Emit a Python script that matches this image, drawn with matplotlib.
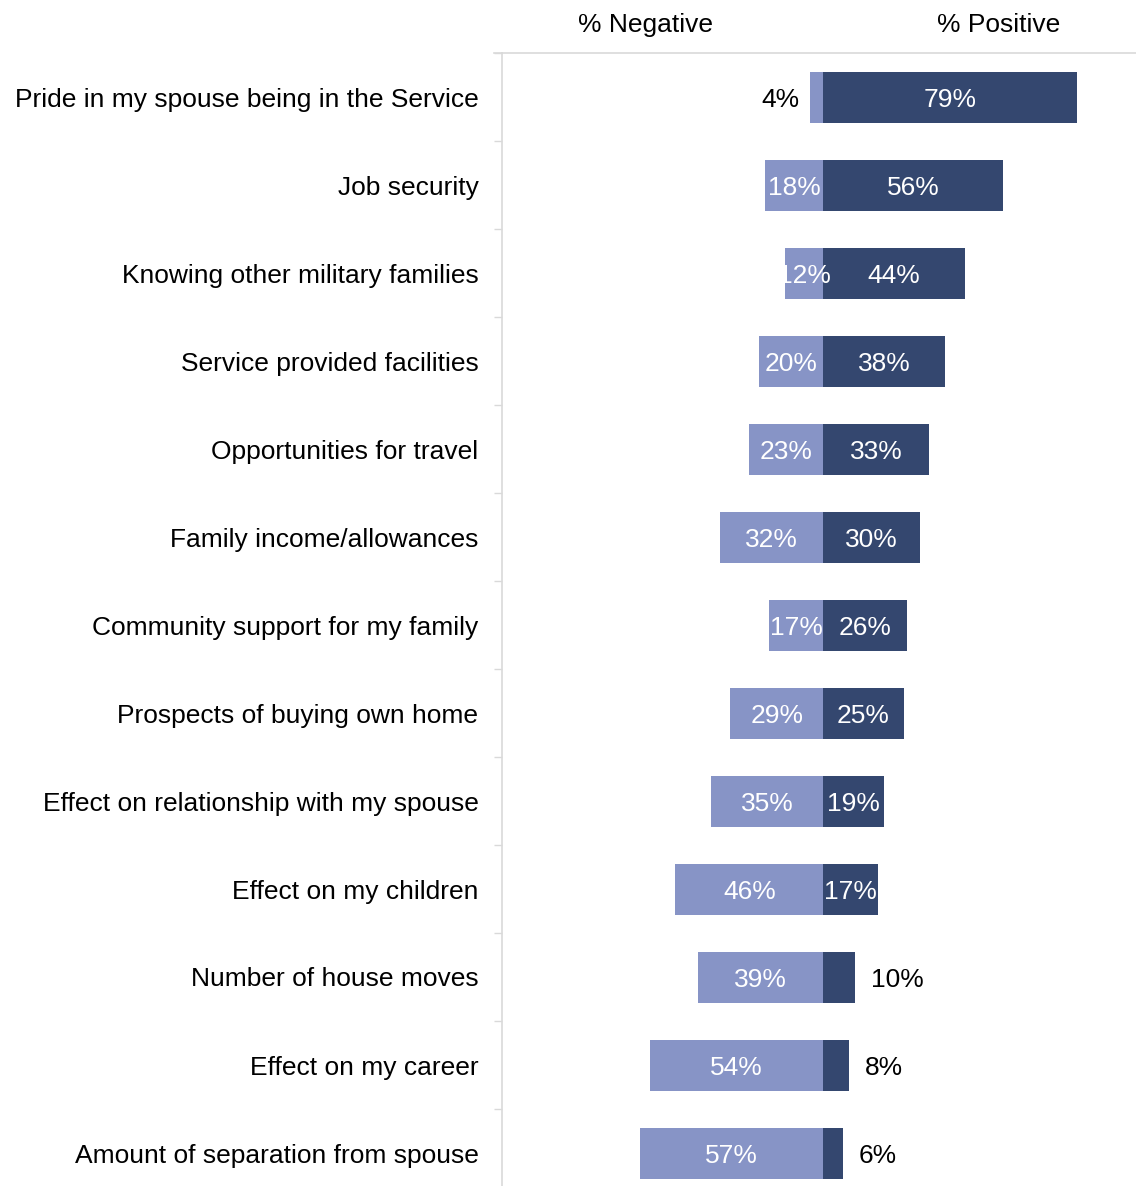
import numpy as np
import matplotlib
matplotlib.use("Agg")
import matplotlib.pyplot as plt

plt.rcParams['font.family'] = ['Liberation Sans', 'DejaVu Sans']

categories = [
    "Pride in my spouse being in the Service",
    "Job security",
    "Knowing other military families",
    "Service provided facilities",
    "Opportunities for travel",
    "Family income/allowances",
    "Community support for my family",
    "Prospects of buying own home",
    "Effect on relationship with my spouse",
    "Effect on my children",
    "Number of house moves",
    "Effect on my career",
    "Amount of separation from spouse",
]
negative = [4, 18, 12, 20, 23, 32, 17, 29, 35, 46, 39, 54, 57]
positive = [79, 56, 44, 38, 33, 30, 26, 25, 19, 17, 10, 8, 6]

neg_color = "#8794C6"
pos_color = "#34476F"
grid_color = "#D9D9D9"
fs = 19
outside_limit = 11  # below this the label goes outside the bar

W, H = 1136, 1186
fig = plt.figure(figsize=(W / 100, H / 100), dpi=100)
# plot area: left spine at x=502px, top at y=53px, bottom cropped below the image
left, right = 502 / W, 1144.5 / W
top, bottom = 1 - 53 / H, 1 - 1197 / H
ax = fig.add_axes([left, bottom, right - left, top - bottom])

y = np.arange(len(categories))
neg = np.array(negative)
pos = np.array(positive)
bar_h = 0.58

ax.barh(y + 0.01, -neg, height=bar_h, color=neg_color)
ax.barh(y + 0.01, pos, height=bar_h, color=pos_color)

for i in range(len(categories)):
    n, p = neg[i], pos[i]
    yi = i + 0.03
    if n < outside_limit:
        ax.text(-n - 3.5, yi, f"{n}%", ha="right", va="center", fontsize=fs, color="black")
    else:
        ax.text(-n / 2, yi, f"{n}%", ha="center", va="center", fontsize=fs, color="white")
    if p < outside_limit:
        ax.text(p + 5, yi, f"{p}%", ha="left", va="center", fontsize=fs, color="black")
    else:
        ax.text(p / 2, yi, f"{p}%", ha="center", va="center", fontsize=fs, color="white")

ax.set_xlim(-100, 100)
ax.set_ylim(len(categories) - 0.5, -0.5)

ax.set_yticks(y)
ax.set_yticklabels(categories, fontsize=fs)
ax.set_yticks(np.arange(len(categories) + 1) - 0.5, minor=True)
ax.tick_params(axis="y", which="major", length=0, pad=17)
ax.tick_params(axis="y", which="minor", length=6, color=grid_color, width=1)
ax.set_xticks([])

for s in ["right", "bottom"]:
    ax.spines[s].set_visible(False)
ax.spines["left"].set_color(grid_color)
ax.spines["top"].set_color(grid_color)
ax.spines["left"].set_linewidth(1.2)
ax.spines["top"].set_linewidth(1.2)
# top line sticks out a little to the left of the spine
ax.plot([-102.6, -100], [-0.5, -0.5], color=grid_color, lw=1.2, clip_on=False)

fig.text(646 / W, 1 - 25 / H, "% Negative", ha="center", va="center", fontsize=fs)
fig.text(999 / W, 1 - 25 / H, "% Positive", ha="center", va="center", fontsize=fs)

fig.savefig("out.png", dpi=100)
